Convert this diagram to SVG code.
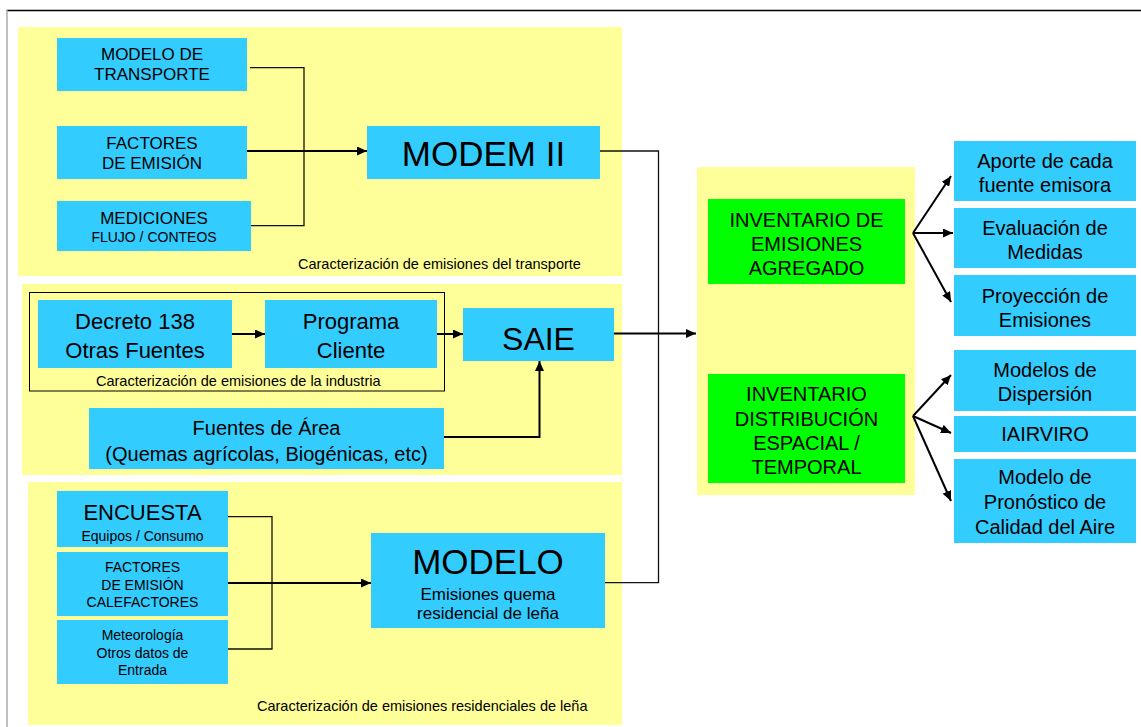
<svg xmlns="http://www.w3.org/2000/svg" width="1141" height="727" viewBox="0 0 1141 727">
<defs>
<marker id="ah" markerUnits="userSpaceOnUse" markerWidth="11" markerHeight="9" refX="10" refY="4.5" orient="auto">
<path d="M0,0 L10,4.5 L0,9 z" fill="#000"/>
</marker>
<style>
text{font-family:"Liberation Sans",Arial,sans-serif;fill:#000;text-anchor:middle}
.panel{fill:#FFFF99}
.blue{fill:#33CCFF}
.green{fill:#00FF00}
.cap{font-size:14.5px;text-anchor:start}
.br{fill:none;stroke:#111;stroke-width:1.3}
.ar{fill:none;stroke:#000;stroke-width:2;marker-end:url(#ah)}
.f17{font-size:17px}
.f14{font-size:14px}
.f22{font-size:22px}
.f20{font-size:20px}
</style>
</defs>
<rect width="1141" height="727" fill="#fff"/>
<path d="M6.5,10.5 H1141" stroke="#000" stroke-width="1.5"/>
<path d="M7,10 V727" stroke="#aaa" stroke-width="1.5"/>

<g id="panel-transporte">
<rect class="panel" x="18" y="27" width="604" height="249"/>
<text class="cap" x="298" y="269">Caracterización de emisiones del transporte</text>
</g>
<g id="panel-industria">
<rect class="panel" x="22" y="284" width="600" height="191"/>
<rect x="29.5" y="292.5" width="415" height="98.5" fill="none" stroke="#000" stroke-width="1"/>
<text class="cap" x="96" y="386">Caracterización de emisiones de la industria</text>
</g>
<g id="panel-residencial">
<rect class="panel" x="28" y="482" width="594" height="243"/>
<text class="cap" x="257" y="711">Caracterización de emisiones residenciales de leña</text>
</g>
<g id="panel-inventario">
<rect class="panel" x="697" y="167" width="218" height="328"/>
</g>

<g id="n-modelo-transporte">
<rect class="blue" x="57" y="38" width="190" height="53"/>
<text class="f17" x="152" y="60">MODELO DE</text>
<text class="f17" x="152" y="80">TRANSPORTE</text>
</g>
<g id="n-factores">
<rect class="blue" x="57" y="126" width="190" height="53"/>
<text class="f17" x="152" y="149">FACTORES</text>
<text class="f17" x="152" y="169">DE EMISIÓN</text>
</g>
<g id="n-mediciones">
<rect class="blue" x="57" y="201" width="194" height="50"/>
<text class="f17" x="154" y="224">MEDICIONES</text>
<text class="f14" x="154" y="242">FLUJO / CONTEOS</text>
</g>
<g id="n-modem">
<rect class="blue" x="367" y="126" width="233" height="53"/>
<text x="483.5" y="166" style="font-size:35px">MODEM II</text>
</g>

<g id="n-decreto">
<rect class="blue" x="38" y="300" width="194" height="68"/>
<text class="f22" x="135" y="329">Decreto 138</text>
<text class="f22" x="135" y="358">Otras Fuentes</text>
</g>
<g id="n-programa">
<rect class="blue" x="265" y="300" width="172" height="68"/>
<text class="f22" x="351" y="329">Programa</text>
<text class="f22" x="351" y="358">Cliente</text>
</g>
<g id="n-saie">
<rect class="blue" x="463" y="308" width="151" height="53"/>
<text x="538.5" y="350" style="font-size:32px">SAIE</text>
</g>
<g id="n-fuentes-area">
<rect class="blue" x="89" y="408" width="355" height="61"/>
<text x="266.5" y="435" style="font-size:20px">Fuentes de Área</text>
<text x="266.5" y="461" style="font-size:20px">(Quemas agrícolas, Biogénicas, etc)</text>
</g>

<g id="n-encuesta">
<rect class="blue" x="57" y="491" width="171" height="56"/>
<text class="f22" x="142.5" y="520">ENCUESTA</text>
<text class="f14" x="142.5" y="540.5">Equipos / Consumo</text>
</g>
<g id="n-factores-calef">
<rect class="blue" x="57" y="552" width="171" height="64"/>
<text class="f14" x="142.5" y="571.5">FACTORES</text>
<text class="f14" x="142.5" y="590">DE EMISIÓN</text>
<text class="f14" x="142.5" y="607">CALEFACTORES</text>
</g>
<g id="n-meteorologia">
<rect class="blue" x="57" y="620" width="171" height="64"/>
<text class="f14" x="142.5" y="640">Meteorología</text>
<text class="f14" x="142.5" y="658">Otros datos de</text>
<text class="f14" x="142.5" y="675">Entrada</text>
</g>
<g id="n-modelo">
<rect class="blue" x="371" y="533" width="234" height="95"/>
<text x="488" y="573.5" style="font-size:35px">MODELO</text>
<text class="f17" x="488" y="599.5">Emisiones quema</text>
<text class="f17" x="488" y="618.5">residencial de leña</text>
</g>

<g id="n-inv-agregado">
<rect class="green" x="708" y="199" width="197" height="85"/>
<text class="f20" x="806.5" y="226.5">INVENTARIO DE</text>
<text class="f20" x="806.5" y="250.5">EMISIONES</text>
<text class="f20" x="806.5" y="274.5">AGREGADO</text>
</g>
<g id="n-inv-distribucion">
<rect class="green" x="708" y="374" width="197" height="109"/>
<text class="f20" x="806.5" y="401">INVENTARIO</text>
<text class="f20" x="806.5" y="425.5">DISTRIBUCIÓN</text>
<text class="f20" x="806.5" y="450">ESPACIAL /</text>
<text class="f20" x="806.5" y="474">TEMPORAL</text>
</g>

<g id="n-aporte">
<rect class="blue" x="954" y="141" width="182" height="60"/>
<text class="f20" x="1045" y="168">Aporte de cada</text>
<text class="f20" x="1045" y="192">fuente emisora</text>
</g>
<g id="n-evaluacion">
<rect class="blue" x="954" y="208" width="182" height="60"/>
<text class="f20" x="1045" y="234.5">Evaluación de</text>
<text class="f20" x="1045" y="258.5">Medidas</text>
</g>
<g id="n-proyeccion">
<rect class="blue" x="954" y="275" width="182" height="61"/>
<text class="f20" x="1045" y="303">Proyección de</text>
<text class="f20" x="1045" y="326.5">Emisiones</text>
</g>
<g id="n-dispersion">
<rect class="blue" x="954" y="350" width="182" height="61"/>
<text class="f20" x="1045" y="376.5">Modelos de</text>
<text class="f20" x="1045" y="401">Dispersión</text>
</g>
<g id="n-iairviro">
<rect class="blue" x="954" y="416" width="182" height="36"/>
<text class="f20" x="1045" y="440.5">IAIRVIRO</text>
</g>
<g id="n-pronostico">
<rect class="blue" x="954" y="459" width="182" height="84"/>
<text class="f20" x="1045" y="484">Modelo de</text>
<text class="f20" x="1045" y="509">Pronóstico de</text>
<text class="f20" x="1045" y="534">Calidad del Aire</text>
</g>

<g id="connectors">
<path class="br" d="M250,67.7 H304 V225.7 H251"/>
<path class="ar" d="M247,151 H367"/>
<path class="br" d="M600,151 H658.5 V582.7 H605"/>
<path class="ar" d="M614,333.5 H696"/>
<path class="ar" d="M232,334 H265"/>
<path class="ar" d="M437,334 H463"/>
<path class="ar" d="M444,437 H539.5 V361"/>
<path class="br" d="M228,516.7 H272 V649 H228"/>
<path class="ar" d="M228,583 H371"/>
<path class="ar" d="M913,233 L951,176"/>
<path class="ar" d="M913,233 L953,233"/>
<path class="ar" d="M913,233 L951,302"/>
<path class="ar" d="M913,416 L951,375"/>
<path class="ar" d="M913,416 L951,433"/>
<path class="ar" d="M913,416 L951,501"/>
</g>
</svg>
